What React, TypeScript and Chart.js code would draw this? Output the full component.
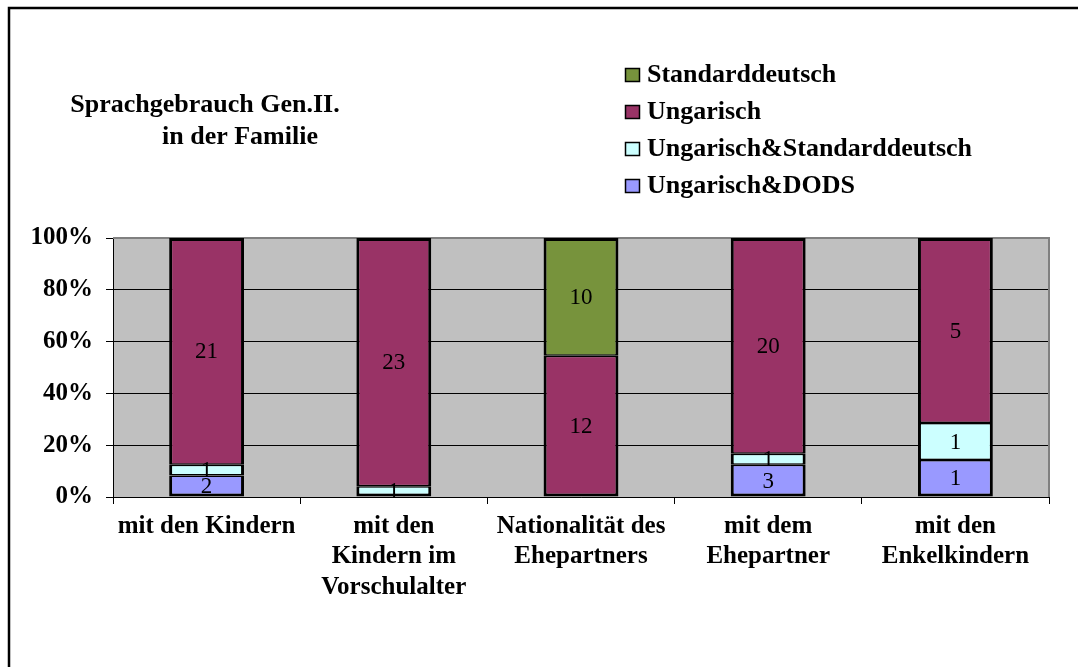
import React, { useEffect, useRef } from "react";
import { Chart, registerables } from "chart.js";

Chart.register(...registerables);

const categories: string[][] = [
  ["mit den Kindern"],
  ["mit den", "Kindern im", "Vorschulalter"],
  ["Nationalität des", "Ehepartners"],
  ["mit dem", "Ehepartner"],
  ["mit den", "Enkelkindern"],
];
const seriesNames = ["Ungarisch&DODS", "Ungarisch&Standarddeutsch", "Ungarisch", "Standarddeutsch"];
const dods = [2, 0, 0, 3, 1];
const ungStd = [1, 1, 0, 1, 1];
const ung = [21, 23, 12, 20, 5];
const std = [0, 0, 10, 0, 0];
const seriesColors = ["#9999FF", "#CCFFFF", "#993366", "#77933C"];
const titleLines = ["Sprachgebrauch Gen.II.", "in der Familie"];

const FONT = "'Liberation Serif', 'Times New Roman', serif";

const counts = [dods, ungStd, ung, std];
const totals = categories.map((_, j) => counts.reduce((s, arr) => s + arr[j], 0));

const OUTER = 3;
const INNER = 1.5;
function segBorder(ctx: any) {
  const i = ctx.datasetIndex;
  const j = ctx.dataIndex;
  if (!counts[i][j]) return 0;
  let below = false;
  let above = false;
  for (let k = 0; k < i; k++) if (counts[k][j] > 0) below = true;
  for (let k = i + 1; k < counts.length; k++) if (counts[k][j] > 0) above = true;
  return {
    left: OUTER,
    right: OUTER,
    top: above ? INNER : OUTER,
    bottom: below ? INNER : OUTER,
  };
}

const decor = {
  id: "decor",
  beforeDraw(chart: any) {
    const { ctx, chartArea: a } = chart;
    ctx.save();
    ctx.fillStyle = "#ffffff";
    ctx.fillRect(0, 0, chart.width, chart.height);
    ctx.fillStyle = "#C0C0C0";
    ctx.fillRect(a.left, a.top, a.right - a.left, a.bottom - a.top);
    ctx.restore();
  },
  beforeDatasetsDraw(chart: any) {
    const { ctx, chartArea: a } = chart;
    ctx.save();
    ctx.strokeStyle = "#808080";
    ctx.lineWidth = 2;
    ctx.beginPath();
    ctx.moveTo(a.left, a.top);
    ctx.lineTo(a.right, a.top);
    ctx.lineTo(a.right, a.bottom);
    ctx.stroke();
    ctx.restore();
  },
  afterDatasetsDraw(chart: any) {
    const { ctx } = chart;
    ctx.save();
    ctx.fillStyle = "#000";
    ctx.font = `23px ${FONT}`;
    ctx.textAlign = "center";
    ctx.textBaseline = "middle";
    chart.data.datasets.forEach((ds: any, i: number) => {
      const meta = chart.getDatasetMeta(i);
      meta.data.forEach((el: any, j: number) => {
        const c = ds.counts[j];
        if (c > 0) ctx.fillText(String(c), el.x, (el.y + el.base) / 2 + 1);
      });
    });
    ctx.restore();
  },
  afterDraw(chart: any) {
    const { ctx } = chart;
    ctx.save();
    // outer frame
    ctx.strokeStyle = "#000";
    ctx.lineWidth = 2.5;
    ctx.strokeRect(9, 8, 1400, 1000);
    // title
    ctx.fillStyle = "#000";
    ctx.font = `bold 26px ${FONT}`;
    ctx.textAlign = "center";
    ctx.textBaseline = "alphabetic";
    ctx.fillText(titleLines[0], 205, 112);
    ctx.fillText(titleLines[1], 240, 144);
    // legend (reverse order)
    ctx.font = `bold 26px ${FONT}`;
    ctx.textAlign = "left";
    const ds = chart.data.datasets;
    for (let k = 0; k < ds.length; k++) {
      const d = ds[ds.length - 1 - k];
      const bl = 82 + k * 37;
      ctx.fillStyle = d.backgroundColor;
      ctx.fillRect(625.5, bl - 13.5, 14, 13);
      ctx.strokeStyle = "#000";
      ctx.lineWidth = 1.5;
      ctx.strokeRect(625.5, bl - 13.5, 14, 13);
      ctx.fillStyle = "#000";
      ctx.fillText(d.label, 647, bl);
    }
    ctx.restore();
  },
};

export default function App() {
  const ref = useRef<HTMLCanvasElement>(null);
  useEffect(() => {
    const canvas = ref.current!;
    const chart = new Chart(canvas, {
      type: "bar",
      data: {
        labels: categories,
        datasets: seriesNames.map((name, i) => ({
          label: name,
          data: counts[i].map((v, j) => (v / totals[j]) * 100),
          counts: counts[i],
          backgroundColor: seriesColors[i],
          borderColor: "#000",
          borderWidth: segBorder,
          borderSkipped: false,
          barPercentage: 0.4,
          categoryPercentage: 1,
        })) as any,
      },
      options: {
        animation: false,
        responsive: false,
        devicePixelRatio: 1,
        layout: { padding: { top: 238, right: 29, left: 0, bottom: 0 } },
        plugins: { legend: { display: false }, title: { display: false }, tooltip: { enabled: false } },
        scales: {
          x: {
            stacked: true,
            grid: { offset: true, drawOnChartArea: false, drawTicks: true, tickLength: 7, color: "#000" },
            border: { color: "#000", width: 1 },
            ticks: {
              color: "#000",
              font: { family: FONT, size: 25, weight: "bold", lineHeight: 1.22 },
              padding: 7,
              maxRotation: 0,
              autoSkip: false,
            },
            afterFit(s: any) {
              s.height = 170;
            },
          },
          y: {
            stacked: true,
            min: 0,
            max: 100,
            grid: { color: "#000", tickLength: 7, drawTicks: true },
            border: { color: "#000", width: 1 },
            ticks: {
              stepSize: 20,
              color: "#000",
              padding: 13,
              font: { family: FONT, size: 25, weight: "bold" },
              callback: (v: any) => v + "%",
            },
            afterFit(s: any) {
              s.width = 113;
            },
          },
        },
      } as any,
      plugins: [decor],
    });
    return () => chart.destroy();
  }, []);
  return (
    <div style={{ position: "fixed", left: 0, top: 0, width: 1078, height: 667, background: "#fff" }}>
      <canvas ref={ref} width={1078} height={667} style={{ display: "block" }} />
    </div>
  );
}
